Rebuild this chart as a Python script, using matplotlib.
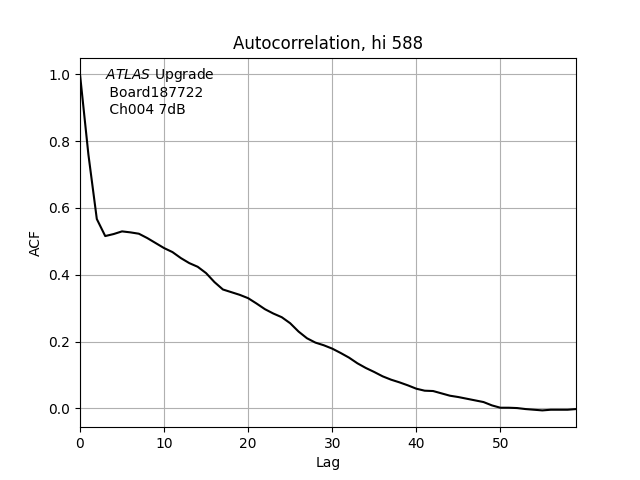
import matplotlib
matplotlib.use("Agg")
import matplotlib.pyplot as plt
import numpy as np

lags = np.arange(60)
acf = [1.0, 0.76, 0.567, 0.516, 0.522, 0.530, 0.527, 0.523, 0.510, 0.495,
       0.480, 0.468, 0.450, 0.435, 0.424, 0.405, 0.378, 0.356, 0.348, 0.340,
       0.330, 0.314, 0.297, 0.284, 0.273, 0.255, 0.230, 0.210, 0.197, 0.189,
       0.179, 0.166, 0.152, 0.135, 0.121, 0.109, 0.096, 0.086, 0.078, 0.069,
       0.059, 0.053, 0.052, 0.045, 0.038, 0.034, 0.029, 0.024, 0.019, 0.009,
       0.002, 0.002, 0.001, -0.002, -0.004, -0.006, -0.004, -0.004, -0.004, -0.002]

fig, ax = plt.subplots(figsize=(6.4, 4.8), dpi=100)
ax.plot(lags, acf, color="black", lw=1.5)
ax.set_xlim(0, 59)
ax.grid(True, color="#b0b0b0")
ax.set_xlabel("Lag")
ax.set_ylabel("ACF")
ax.set_title("Autocorrelation, hi 588")
ax.text(0.05, 0.977, "$\\it{ATLAS}$ Upgrade\n Board187722\n Ch004 7dB",
        transform=ax.transAxes, va="top", ha="left")
fig.savefig("out.png")
